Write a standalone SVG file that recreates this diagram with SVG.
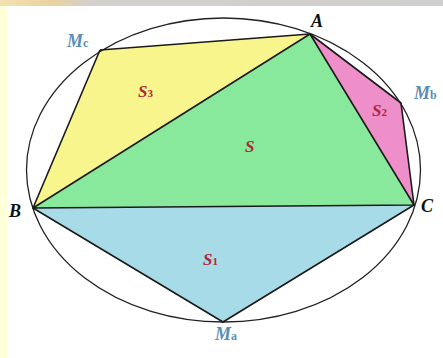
<svg xmlns="http://www.w3.org/2000/svg" width="443" height="358" viewBox="0 0 443 358">
<defs>
<linearGradient id="topg" x1="0" y1="0" x2="1" y2="0">
<stop offset="0" stop-color="#f3e2b0"/><stop offset="0.12" stop-color="#e8d3a0"/><stop offset="0.2" stop-color="#d4d0cc"/><stop offset="1" stop-color="#cfcfcf"/>
</linearGradient>
</defs>
<style>
.edge{stroke:#1a1a1a;stroke-width:1.6;stroke-linejoin:round}
.v{font-family:"Liberation Serif",serif;font-style:italic;font-weight:bold;font-size:18px;fill:#111}
.m{font-family:"Liberation Serif",serif;font-style:italic;font-weight:bold;font-size:18px;fill:#5b8db5}
.ms{font-size:12px;font-style:normal}
.s{font-family:"Liberation Serif",serif;font-style:italic;font-weight:bold;font-size:17px;fill:#b0263a}
.ss{font-size:11px;font-style:normal}
</style>
<rect width="443" height="358" fill="#ffffff"/>
<rect x="0" y="0" width="443" height="6" fill="url(#topg)"/>
<rect x="0" y="6" width="7" height="352" fill="#ffffd8"/>
<g id="regions">
<g id="S3"><polygon points="100,50 310,34 33,208" fill="#f8f58c"/></g>
<g id="S"><polygon points="310,34 414,205 33,208" fill="#88e89c"/></g>
<g id="S2"><polygon points="310,34 401,103 414,205" fill="#ef8fca"/></g>
<g id="S1"><polygon points="33,208 414,205 223,322" fill="#a8dbe8"/></g>
</g>
<g id="circle"><ellipse cx="223.5" cy="170" rx="197" ry="152" fill="none" stroke="#222" stroke-width="1.3"/></g>
<g id="connectors" fill="none">
<polyline class="edge" points="100,50 310,34 401,103 414,205 223,322 33,208 100,50"/>
<polygon class="edge" points="310,34 414,205 33,208"/>
</g>
<g id="labels">
<text class="v" x="311" y="27">A</text>
<text class="v" x="9" y="217">B</text>
<text class="v" x="421" y="212">C</text>
<text class="m" x="67" y="47">M<tspan class="ms">c</tspan></text>
<text class="m" x="414" y="99">M<tspan class="ms">b</tspan></text>
<text class="m" x="215" y="340">M<tspan class="ms">a</tspan></text>
<text class="s" x="138" y="97">S<tspan class="ss">3</tspan></text>
<text class="s" x="245" y="152" font-size="19">S</text>
<text class="s" x="372" y="116">S<tspan class="ss">2</tspan></text>
<text class="s" x="203" y="265">S<tspan class="ss">1</tspan></text>
</g>
</svg>
